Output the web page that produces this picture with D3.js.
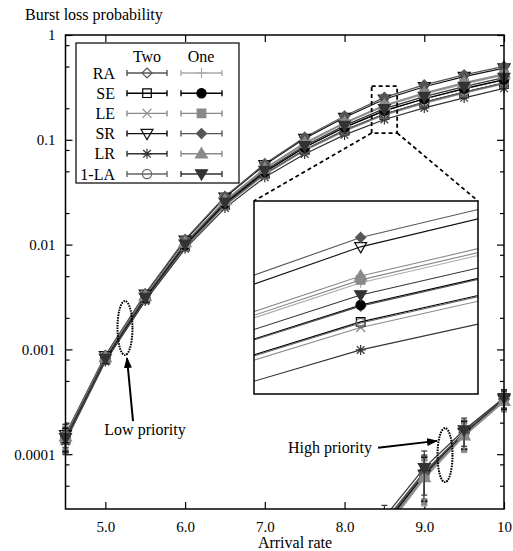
<!DOCTYPE html>
<html lang="en">
<head>
<meta charset="utf-8">
<title>Burst loss probability</title>
<style>
  body { margin: 0; background: #fff; }
  text { font-family: "Liberation Serif", "DejaVu Serif", serif; font-size: 15px; fill: #000; }
  text.big { font-size: 16px; }
</style>
<script src="https://d3js.org/d3.v7.min.js"></script>
</head>
<body>
<svg width="513" height="551"></svg>
<script>
// ---- data ----
const arrivalRates = [4.5, 5.0, 5.5, 6.0, 6.5, 7.0, 7.5, 8.0, 8.5, 9.0, 9.5, 10];

// low priority, "Two"
const lowRATwo = [1.41e-4, 8.08e-4, 3.08e-3, 0.00989, 0.02465, 0.0493, 0.0846, 0.1310, 0.1888, 0.2453, 0.3062, 0.3740];
const lowSETwo = [1.38e-4, 7.93e-4, 3.02e-3, 0.00961, 0.0238, 0.0473, 0.0804, 0.1236, 0.1764, 0.2286, 0.2851, 0.3496];
const lowLETwo = [1.36e-4, 7.87e-4, 2.99e-3, 0.00951, 0.0235, 0.0466, 0.0789, 0.1211, 0.1722, 0.2228, 0.2780, 0.3412];
const lowSRTwo = [1.53e-4, 8.69e-4, 3.36e-3, 0.0110, 0.0282, 0.0578, 0.1029, 0.1632, 0.2439, 0.3209, 0.4004, 0.4832];
const lowLRTwo = [1.32e-4, 7.66e-4, 2.90e-3, 0.00912, 0.0223, 0.0439, 0.0733, 0.1114, 0.1563, 0.2014, 0.2512, 0.3097];
const lowLATwo = [1.37e-4, 7.91e-4, 3.01e-3, 0.00959, 0.0237, 0.0471, 0.0801, 0.1231, 0.1755, 0.2274, 0.2837, 0.3478];
// low priority, "One"
const lowRAOne = [1.45e-4, 8.32e-4, 3.19e-3, 0.01033, 0.0260, 0.0525, 0.0914, 0.1429, 0.2089, 0.2729, 0.3404, 0.4140];
const lowSEOne = [1.41e-4, 8.09e-4, 3.09e-3, 0.00991, 0.0247, 0.0494, 0.0849, 0.1315, 0.1897, 0.2466, 0.3076, 0.3758];
const lowLEOne = [1.46e-4, 8.35e-4, 3.21e-3, 0.01038, 0.0262, 0.0529, 0.0923, 0.1444, 0.2115, 0.2764, 0.3447, 0.4190];
const lowSROne = [1.55e-4, 8.79e-4, 3.40e-3, 0.0112, 0.0288, 0.0592, 0.1060, 0.1690, 0.2540, 0.3340, 0.4170, 0.5020];
const lowLROne = [1.47e-4, 8.39e-4, 3.22e-3, 0.01046, 0.0264, 0.0534, 0.0935, 0.1465, 0.2150, 0.2813, 0.3510, 0.4262];
const lowLAOne = [1.43e-4, 8.19e-4, 3.13e-3, 0.01009, 0.0253, 0.0508, 0.0878, 0.1365, 0.1981, 0.2581, 0.3219, 0.3926];
const lowErr   = [0.25, 0.05, 0.03, 0.02, 0.015, 0.01, 0.01, 0.01, 0.01, 0.01, 0.01, 0.01];

// high priority
const highRates = [8.0, 8.5, 9.0, 9.5, 10];
const highRATwo = [6.0e-6, 2.15e-5, 6.5e-5, 1.58e-4, 3.30e-4];
const highSETwo = [6.0e-6, 2.10e-5, 6.4e-5, 1.57e-4, 3.30e-4];
const highLETwo = [5.5e-6, 2.00e-5, 6.2e-5, 1.55e-4, 3.28e-4];
const highSRTwo = [6.0e-6, 2.10e-5, 6.4e-5, 1.60e-4, 3.35e-4];
const highLRTwo = [5.5e-6, 1.90e-5, 6.0e-5, 1.52e-4, 3.22e-4];
const highLATwo = [6.5e-6, 2.30e-5, 6.8e-5, 1.62e-4, 3.38e-4];
const highRAOne = [5.0e-6, 1.85e-5, 5.8e-5, 1.48e-4, 3.15e-4];
const highSEOne = [6.0e-6, 2.20e-5, 6.6e-5, 1.60e-4, 3.35e-4];
const highLEOne = [5.5e-6, 1.95e-5, 6.1e-5, 1.52e-4, 3.25e-4];
const highSROne = [6.0e-6, 2.20e-5, 6.6e-5, 1.62e-4, 3.40e-4];
const highLROne = [5.5e-6, 1.90e-5, 6.0e-5, 1.50e-4, 3.20e-4];
const highLAOne = [7.0e-6, 2.50e-5, 7.4e-5, 1.70e-4, 3.45e-4];
const highErr   = [0.3, 0.3, 0.45, 0.3, 0.2];

const xTicks = [5, 6, 7, 8, 9, 10];
const xTickLabels = ["5.0", "6.0", "7.0", "8.0", "9.0", "10"];
const yTicks = [1, 0.1, 0.01, 0.001, 0.0001];
const yTickLabels = ["1", "0.1", "0.01", "0.001", "0.0001"];
const yMinorTicks = [0.8, 0.5, 0.2, 0.08, 0.05, 0.02, 0.008, 0.005, 0.002, 0.0008, 0.0005, 0.0002, 0.00008, 0.00005];

const policies = ["RA", "SE", "LE", "SR", "LR", "1-LA"];
const variants = ["Two", "One"];

// zoomed region (main-plot box) and inset domain
const zoomBoxX = [8.34, 8.66];
const zoomBoxY = [0.116, 0.325];
const insetX = [8.30, 8.72];
const insetY = [0.1292, 0.2973];
const insetPointX = 8.5;

// ---- layout / style ----
const svg = d3.select("svg");
const plot = { left: 65.5, right: 504, top: 35, bottom: 509 };
const x = d3.scaleLinear().domain([4.5, 10]).range([plot.left, plot.right]);
const y = d3.scaleLog().domain([3e-5, 1]).range([plot.bottom, plot.top]);

const lowData = {
    Two: [lowRATwo, lowSETwo, lowLETwo, lowSRTwo, lowLRTwo, lowLATwo],
    One: [lowRAOne, lowSEOne, lowLEOne, lowSROne, lowLROne, lowLAOne]
};
const highData = {
    Two: [highRATwo, highSETwo, highLETwo, highSRTwo, highLRTwo, highLATwo],
    One: [highRAOne, highSEOne, highLEOne, highSROne, highLROne, highLAOne]
};
const styles = {
    Two: [
        { color: "#555", shape: "diamond", filled: false },
        { color: "#000", shape: "square", filled: false },
        { color: "#8c8c8c", shape: "cross", filled: false },
        { color: "#111", shape: "triDown", filled: false },
        { color: "#333", shape: "star", filled: false },
        { color: "#666", shape: "circle", filled: false }
    ],
    One: [
        { color: "#aaa", shape: "plus", filled: false },
        { color: "#000", shape: "circle", filled: true },
        { color: "#888", shape: "square", filled: true },
        { color: "#555", shape: "diamond", filled: true },
        { color: "#8a8a8a", shape: "triUp", filled: true },
        { color: "#333", shape: "triDown", filled: true }
    ]
};

const series = [];
variants.forEach(v => policies.forEach((p, i) => {
    series.push({
        name: p, variant: v, style: styles[v][i],
        low: arrivalRates.map((r, j) => ({ x: r, v: lowData[v][i][j], e: lowErr[j] })),
        high: highRates.map((r, j) => ({ x: r, v: highData[v][i][j], e: highErr[j] }))
    });
}));

function shapePath(shape) {
    switch (shape) {
        case "diamond": { const s = 5; return `M0,${-s}L${s},0L0,${s}L${-s},0Z`; }
        case "square": { const s = 4.3; return `M${-s},${-s}H${s}V${s}H${-s}Z`; }
        case "circle": { const s = 4.6; return `M${s},0A${s},${s} 0 1,1 ${-s},0A${s},${s} 0 1,1 ${s},0Z`; }
        case "triUp": { const s = 6; return `M0,${-s}L${s},${s * 0.7}L${-s},${s * 0.7}Z`; }
        case "triDown": { const s = 6; return `M0,${s}L${s},${-s * 0.7}L${-s},${-s * 0.7}Z`; }
        case "plus": { const s = 5; return `M${-s},0H${s}M0,${-s}V${s}`; }
        case "cross": { const s = 4.5; return `M${-s},${-s}L${s},${s}M${-s},${s}L${s},${-s}`; }
        case "star": { const s = 5, c = 3.8; return `M${-s},0H${s}M0,${-s}V${s}M${-c},${-c}L${c},${c}M${-c},${c}L${c},${-c}`; }
    }
}

function drawMarker(g, st, px, py) {
    g.append("path")
        .attr("d", shapePath(st.shape))
        .attr("transform", `translate(${px},${py})`)
        .attr("fill", st.filled ? st.color : "none")
        .attr("stroke", st.color)
        .attr("stroke-width", 1.2);
}

// ---- defs ----
const defs = svg.append("defs");
defs.append("clipPath").attr("id", "plotClip").append("rect")
    .attr("x", plot.left).attr("y", plot.top)
    .attr("width", plot.right - plot.left).attr("height", plot.bottom - plot.top);
defs.append("marker").attr("id", "arrow")
    .attr("markerUnits", "userSpaceOnUse")
    .attr("markerWidth", 11).attr("markerHeight", 8)
    .attr("refX", 10).attr("refY", 4).attr("orient", "auto")
    .append("path").attr("d", "M0,0L11,4L0,8Z").attr("fill", "#000");

// ---- axes ----
const axisStyle = g => {
    g.select(".domain").remove();
    g.selectAll(".tick line").attr("stroke-width", 1.2);
};
svg.append("g").attr("transform", `translate(${plot.left},0)`)
    .call(d3.axisLeft(y).tickValues(yTicks).tickFormat((d, i) => yTickLabels[i])
        .tickSizeInner(-7).tickSizeOuter(0).tickPadding(10))
    .call(axisStyle);
svg.append("g").attr("transform", `translate(${plot.left},0)`)
    .call(d3.axisLeft(y).tickValues(yMinorTicks).tickFormat("").tickSizeInner(-4).tickSizeOuter(0))
    .call(axisStyle);
svg.append("g").attr("transform", `translate(${plot.right},0)`)
    .call(d3.axisRight(y).tickValues(yTicks).tickFormat("").tickSizeInner(-7).tickSizeOuter(0))
    .call(axisStyle);
svg.append("g").attr("transform", `translate(${plot.right},0)`)
    .call(d3.axisRight(y).tickValues(yMinorTicks).tickFormat("").tickSizeInner(-4).tickSizeOuter(0))
    .call(axisStyle);
svg.append("g").attr("transform", `translate(0,${plot.bottom})`)
    .call(d3.axisBottom(x).tickValues(xTicks).tickFormat((d, i) => xTickLabels[i])
        .tickSizeInner(-7).tickSizeOuter(0).tickPadding(12))
    .call(axisStyle);
svg.append("g").attr("transform", `translate(0,${plot.top})`)
    .call(d3.axisTop(x).tickValues(xTicks).tickFormat("").tickSizeInner(-7).tickSizeOuter(0))
    .call(axisStyle);

svg.append("text").attr("class", "big").attr("x", 25).attr("y", 20).text("Burst loss probability");
svg.append("text").attr("class", "big").attr("x", 295).attr("y", 548)
    .attr("text-anchor", "middle").text("Arrival rate");

// ---- series ----
const line = d3.line().x(d => x(d.x)).y(d => y(d.v));
const [yLo, yHi] = y.domain();
const linesG = svg.append("g").attr("clip-path", "url(#plotClip)");
const marksG = svg.append("g");

series.forEach(s => {
    [s.low, s.high].forEach(pts => {
        linesG.append("path").datum(pts)
            .attr("d", line)
            .attr("fill", "none")
            .attr("stroke", s.style.color)
            .attr("stroke-width", 1.2);
        pts.forEach(d => {
            const top = d.v * (1 + d.e), bot = d.v * (1 - d.e);
            if (top < yLo) return;
            const px = x(d.x);
            const y1 = y(Math.min(top, yHi)), y2 = y(Math.max(bot, yLo));
            marksG.append("line").attr("x1", px).attr("x2", px).attr("y1", y1).attr("y2", y2)
                .attr("stroke", s.style.color).attr("stroke-width", 1.2);
            [[top, y1], [bot, y2]].forEach(([val, py]) => {
                if (val >= yLo && val <= yHi) {
                    marksG.append("line").attr("x1", px - 3).attr("x2", px + 3)
                        .attr("y1", py).attr("y2", py)
                        .attr("stroke", s.style.color).attr("stroke-width", 1.2);
                }
            });
            if (d.v >= yLo) drawMarker(marksG, s.style, px, y(d.v));
        });
    });
});

// frame
svg.append("rect")
    .attr("x", plot.left).attr("y", plot.top)
    .attr("width", plot.right - plot.left).attr("height", plot.bottom - plot.top)
    .attr("fill", "none").attr("stroke", "#000").attr("stroke-width", 1.5);

// ---- legend ----
const legend = svg.append("g");
legend.append("rect").attr("x", 76).attr("y", 43).attr("width", 163).attr("height", 140)
    .attr("fill", "#fff").attr("stroke", "#000").attr("stroke-width", 1.2);
const legendCols = { Two: [127, 167], One: [181, 222] };
legend.append("text").attr("class", "big").attr("x", 147).attr("y", 62).attr("text-anchor", "middle").text("Two");
legend.append("text").attr("class", "big").attr("x", 201).attr("y", 62).attr("text-anchor", "middle").text("One");
policies.forEach((p, i) => {
    const ry = 73 + i * 20.2;
    legend.append("text").attr("class", "big").attr("x", 115).attr("y", ry).attr("dy", "0.35em")
        .attr("text-anchor", "end").text(p);
    variants.forEach(v => {
        const st = styles[v][i];
        const [a, b] = legendCols[v];
        legend.append("path")
            .attr("d", `M${a},${ry}H${b}M${a},${ry - 3}V${ry + 3}M${b},${ry - 3}V${ry + 3}`)
            .attr("fill", "none").attr("stroke", st.color).attr("stroke-width", 1.4);
        drawMarker(legend, st, (a + b) / 2, ry);
    });
});

// ---- zoom box and inset ----
const inset = { x: 254, y: 201, w: 224, h: 193 };
const xi = d3.scaleLinear().domain(insetX).range([inset.x, inset.x + inset.w]);
const yi = d3.scaleLog().domain(insetY).range([inset.y + inset.h, inset.y]);
defs.append("clipPath").attr("id", "insetClip").append("rect")
    .attr("x", inset.x).attr("y", inset.y).attr("width", inset.w).attr("height", inset.h);

const dash = g => g.attr("fill", "none").attr("stroke", "#000")
    .attr("stroke-width", 1.8).attr("stroke-dasharray", "4,3");
svg.append("rect")
    .attr("x", x(zoomBoxX[0])).attr("y", y(zoomBoxY[1]))
    .attr("width", x(zoomBoxX[1]) - x(zoomBoxX[0]))
    .attr("height", y(zoomBoxY[0]) - y(zoomBoxY[1]))
    .call(dash);
svg.append("line").attr("x1", x(zoomBoxX[0])).attr("y1", y(zoomBoxY[0]))
    .attr("x2", inset.x).attr("y2", inset.y).call(dash);
svg.append("line").attr("x1", x(zoomBoxX[1])).attr("y1", y(zoomBoxY[0]))
    .attr("x2", inset.x + inset.w).attr("y2", inset.y).call(dash);

svg.append("rect").attr("x", inset.x).attr("y", inset.y).attr("width", inset.w).attr("height", inset.h)
    .attr("fill", "#fff");
const insetLine = d3.line().x(d => xi(d.x)).y(d => yi(d.v));
const insetLines = svg.append("g").attr("clip-path", "url(#insetClip)");
const insetMarks = svg.append("g");
series.forEach(s => {
    insetLines.append("path").datum(s.low).attr("d", insetLine)
        .attr("fill", "none").attr("stroke", s.style.color).attr("stroke-width", 1.1);
    const d = s.low.find(p => p.x === insetPointX);
    drawMarker(insetMarks, s.style, xi(d.x), yi(d.v));
});
svg.append("rect").attr("x", inset.x).attr("y", inset.y).attr("width", inset.w).attr("height", inset.h)
    .attr("fill", "none").attr("stroke", "#000").attr("stroke-width", 1.5);

// ---- annotations ----
const lowEllipse = { x: 5.246, v: 1.6e-3 };
const lowArrow = [[5.347, 2.07e-4], [5.271, 8.28e-4]];
const lowLabel = { x: 5.497, v: 1.52e-4 };
const highEllipse = { x: 9.26, v: 9.8e-5 };
const highArrow = [[8.42, 1.15e-4], [9.16, 1.34e-4]];
const highLabel = { x: 8.344, v: 1.03e-4 };

[lowEllipse, highEllipse].forEach(e => {
    svg.append("ellipse").attr("cx", x(e.x)).attr("cy", y(e.v)).attr("rx", 7.5).attr("ry", 27)
        .attr("fill", "none").attr("stroke", "#000").attr("stroke-width", 2)
        .attr("stroke-dasharray", "1.6,1");
});
[lowArrow, highArrow].forEach(a => {
    svg.append("line")
        .attr("x1", x(a[0][0])).attr("y1", y(a[0][1]))
        .attr("x2", x(a[1][0])).attr("y2", y(a[1][1]))
        .attr("stroke", "#000").attr("stroke-width", 2)
        .attr("marker-end", "url(#arrow)");
});
svg.append("text").attr("class", "big").attr("x", x(lowLabel.x)).attr("y", y(lowLabel.v))
    .attr("text-anchor", "middle").text("Low priority");
svg.append("text").attr("class", "big").attr("x", x(highLabel.x)).attr("y", y(highLabel.v))
    .attr("text-anchor", "end").text("High priority");
</script>
</body>
</html>
